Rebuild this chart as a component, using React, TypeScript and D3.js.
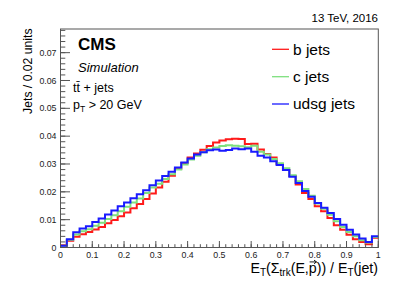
import React, { useLayoutEffect, useRef, useState } from "react";
import * as d3 from "d3";

// Histogram contents, 50 bins of 0.02 from 0 to 1 (fraction of jets per bin)
const binEdgesStart = 0;
const binWidth = 0.02;
const nBins = 50;

const bJets = [
  0.0008, 0.0024, 0.0039, 0.0048, 0.0056, 0.0065, 0.0074, 0.0087, 0.0099, 0.0112,
  0.0126, 0.0141, 0.0156, 0.0174, 0.0194, 0.0216, 0.0236, 0.0258, 0.0283, 0.0304,
  0.0323, 0.0338, 0.0351, 0.0365, 0.0377, 0.0384, 0.0389, 0.0391, 0.0390, 0.0372,
  0.0373, 0.0352, 0.0336, 0.0323, 0.0300, 0.0278, 0.0257, 0.0226, 0.0196, 0.0174,
  0.0148, 0.0130, 0.0106, 0.0080, 0.0064, 0.0046, 0.0030, 0.0020, 0.0012, 0.0035,
];
const cJets = [
  0.0006, 0.0028, 0.0047, 0.0058, 0.0066, 0.0078, 0.0089, 0.0102, 0.0116, 0.0130,
  0.0146, 0.0162, 0.0176, 0.0196, 0.0216, 0.0229, 0.0246, 0.0263, 0.0280, 0.0298,
  0.0316, 0.0330, 0.0342, 0.0353, 0.0359, 0.0365, 0.0367, 0.0366, 0.0364, 0.0360,
  0.0366, 0.0344, 0.0334, 0.0318, 0.0303, 0.0285, 0.0260, 0.0238, 0.0210, 0.0186,
  0.0158, 0.0139, 0.0118, 0.0094, 0.0074, 0.0056, 0.0040, 0.0026, 0.0018, 0.0038,
];
const udsgJets = [
  0.0006, 0.0030, 0.0055, 0.0068, 0.0076, 0.0092, 0.0104, 0.0119, 0.0133, 0.0148,
  0.0162, 0.0177, 0.0191, 0.0206, 0.0224, 0.0241, 0.0257, 0.0272, 0.0287, 0.0305,
  0.0320, 0.0334, 0.0342, 0.0349, 0.0352, 0.0348, 0.0350, 0.0356, 0.0353, 0.0356,
  0.0344, 0.0330, 0.0323, 0.0310, 0.0296, 0.0278, 0.0254, 0.0232, 0.0203, 0.0182,
  0.0160, 0.0143, 0.0124, 0.0102, 0.0082, 0.0064, 0.0047, 0.0032, 0.0020, 0.0040,
];

const seriesNames = ["b jets", "c jets", "udsg jets"];
const seriesColors = ["#ff1a1a", "#7ee07e", "#1a1aff"];

const xTickValues = [0, 0.1, 0.2, 0.3, 0.4, 0.5, 0.6, 0.7, 0.8, 0.9, 1];
const xTickLabels = ["0", "0.1", "0.2", "0.3", "0.4", "0.5", "0.6", "0.7", "0.8", "0.9", "1"];
const yTickValues = [0, 0.01, 0.02, 0.03, 0.04, 0.05, 0.06, 0.07];
const yTickLabels = ["0", "0.01", "0.02", "0.03", "0.04", "0.05", "0.06", "0.07"];

const FONT = "'Liberation Sans', Arial, Helvetica, sans-serif";

export default function App() {
  const W = 407;
  const H = 293;
  const left = 60.5, right = 378.3, top = 29, bottom = 247.5;
  const x = d3.scaleLinear().domain([0, 1]).range([left, right]);
  const y = d3.scaleLinear().domain([0, 0.0785]).range([bottom, top]);

  const xMinor = d3.range(0, 1.0001, 0.02);
  const yMinor = d3.range(0, 0.0785, 0.002);
  const axisColor = "#555";

  const pRef = useRef<SVGTSpanElement>(null);
  const [arrow, setArrow] = useState<{ x0: number; x1: number; y: number } | null>(null);
  useLayoutEffect(() => {
    const el = pRef.current;
    if (!el) return;
    try {
      const b = (el as any).getBBox();
      setArrow({ x0: b.x + 0.8, x1: b.x + b.width - 0.3, y: b.y + b.height * 0.12 });
    } catch (e) {
      // ignore
    }
  }, []);

  const stepLine = d3
    .line<[number, number]>()
    .x((d) => x(d[0]))
    .y((d) => y(d[1]))
    .curve(d3.curveStepAfter);

  const makePath = (vals: number[]) => {
    const pts: [number, number][] = vals.map((v, i) => [binEdgesStart + i * binWidth, v]);
    pts.push([binEdgesStart + nBins * binWidth, vals[vals.length - 1]]);
    return stepLine(pts) || "";
  };

  const allSeries = [bJets, cJets, udsgJets];
  const legendY = [49.3, 76.7, 104];

  return (
    <svg
      width={W}
      height={H}
      style={{ position: "absolute", left: 0, top: 0, background: "#fff" }}
      fontFamily={FONT}
    >
      <rect x={0} y={0} width={W} height={H} fill="#fff" />

      {/* histograms */}
      {allSeries.map((vals, k) => (
        <path
          key={k}
          d={makePath(vals)}
          fill="none"
          stroke={seriesColors[k]}
          strokeWidth={2}
        />
      ))}

      {/* frame */}
      <rect
        x={left}
        y={top}
        width={right - left}
        height={bottom - top}
        fill="none"
        stroke={axisColor}
        strokeWidth={1}
      />

      {/* x ticks */}
      {xMinor.map((v, i) => (
        <line key={"xm" + i} x1={x(v)} x2={x(v)} y1={bottom} y2={bottom - 3.3} stroke={axisColor} strokeWidth={1} />
      ))}
      {xTickValues.map((v, i) => (
        <line key={"xM" + i} x1={x(v)} x2={x(v)} y1={bottom} y2={bottom - 6.5} stroke={axisColor} strokeWidth={1} />
      ))}
      {xTickValues.map((v, i) => (
        <text key={"xl" + i} x={x(v)} y={258} fontSize={8.8} textAnchor="middle" fill="#222">
          {xTickLabels[i]}
        </text>
      ))}

      {/* y ticks */}
      {yMinor.map((v, i) => (
        <line key={"ym" + i} x1={left} x2={left + 4.8} y1={y(v)} y2={y(v)} stroke={axisColor} strokeWidth={1} />
      ))}
      {yTickValues.map((v, i) => (
        <line key={"yM" + i} x1={left} x2={left + 9.5} y1={y(v)} y2={y(v)} stroke={axisColor} strokeWidth={1} />
      ))}
      {yTickValues.map((v, i) => (
        <text key={"yl" + i} x={56.5} y={y(v) + 3.1} fontSize={8.8} textAnchor="end" fill="#222">
          {yTickLabels[i]}
        </text>
      ))}

      {/* axis titles */}
      <text x={378} y={273} fontSize={14.2} textAnchor="end" fill="#000">
        E<tspan fontSize={10} dy={3}>T</tspan>
        <tspan dy={-3}>(Σ</tspan>
        <tspan fontSize={10} dy={3}>trk</tspan>
        <tspan dy={-3}>(E,</tspan>
        <tspan ref={pRef}>p</tspan>
        <tspan>)) / E</tspan>
        <tspan fontSize={10} dy={3}>T</tspan>
        <tspan dy={-3}>(jet)</tspan>
      </text>
      {arrow && (
        <g stroke="#000" strokeWidth={0.9} fill="none">
          <line x1={arrow.x0} x2={arrow.x1} y1={arrow.y} y2={arrow.y} />
          <path d={`M${arrow.x1 - 2.5},${arrow.y - 1.8} L${arrow.x1},${arrow.y} L${arrow.x1 - 2.5},${arrow.y + 1.8}`} />
        </g>
      )}
      <text
        transform="translate(31.5,28.5) rotate(-90)"
        fontSize={12.2}
        textAnchor="end"
        fill="#000"
      >
        Jets / 0.02 units
      </text>

      {/* top right label */}
      <text x={378} y={22} fontSize={11.5} textAnchor="end" fill="#000">
        13 TeV, 2016
      </text>

      {/* CMS labels */}
      <text x={78} y={50} fontSize={17} fontWeight="bold" fill="#000">
        CMS
      </text>
      <text x={78} y={72} fontSize={13} fontStyle="italic" fill="#000">
        Simulation
      </text>
      <text x={73} y={92} fontSize={12.5} fill="#000">
        t{"t\u0304"} + jets
      </text>
      <text x={73} y={109} fontSize={12.5} fill="#000">
        p<tspan fontSize={8.5} dy={3}>T</tspan>
        <tspan dy={-3}> &gt; 20 GeV</tspan>
      </text>

      {/* legend */}
      {seriesNames.map((name, k) => (
        <g key={"lg" + k}>
          <line x1={272} x2={289} y1={legendY[k]} y2={legendY[k]} stroke={seriesColors[k]} strokeWidth={1.3} />
          <text x={293} y={legendY[k] + 5.3} fontSize={15.5} fill="#000">
            {name}
          </text>
        </g>
      ))}
    </svg>
  );
}
